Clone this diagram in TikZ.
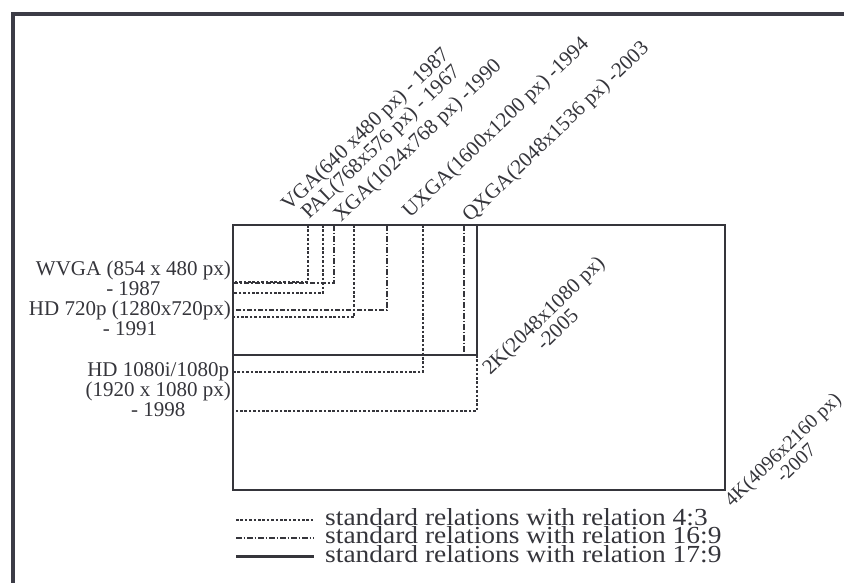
\documentclass[tikz,border=0pt]{standalone}
\usepackage{fontspec}
\setmainfont{Liberation Serif}
\newfontfamily\legfont{Liberation Serif}[FakeStretch=1.12]
\definecolor{ink}{HTML}{35353B}
\definecolor{frameink}{HTML}{3C3C46}

\begin{document}
\begin{tikzpicture}[
  x=1pt, y=-1pt,
  res/.style={ink, line width=1.1pt, dash pattern=on 2.6pt off 1.8pt},
  wide/.style={ink, line width=1.2pt, dash pattern=on 5.5pt off 2pt on 1.5pt off 2pt},
  cine/.style={ink, line width=1.9pt},
  tag/.style={font=\fontsize{21}{20}\selectfont, text=ink, inner sep=0pt},
  rtag/.style={tag, rotate=44, anchor=base west},
  ctag/.style={tag, rotate=44, align=center},
  ltag/.style={tag, align=center, anchor=east},
  leg/.style={font=\legfont\fontsize{24.5}{18}\selectfont, text=ink, inner sep=0pt, anchor=base west}
]
\useasboundingbox (0,0) rectangle (844,583);

% Page frame
\draw[frameink, line width=4pt] (844,14) -- (13,14) -- (13,583);

% 4:3 formats
\draw[res] (308,225) |- (233,282); % VGA
\draw[res] (323,225) |- (233,293); % PAL
\draw[res] (354,225) |- (233,317); % XGA
\draw[res] (423,225) |- (233,372); % UXGA
\draw[res] (477,355) |- (233,411); % QXGA

% 16:9 formats
\draw[wide] (334,225) |- (233,283); % WVGA
\draw[wide] (387,225) |- (233,310); % HD 720p
\draw[wide] (464,225) -- (464,355); % HD 1080

% 17:9 formats
\draw[cine] (233,225) rectangle (725,490); % 4K
\draw[cine] (477,225) |- (233,355);        % 2K

% Top labels
\node[rtag] (vga)  at (289,212) {VGA(640 x480 px) - 1987};
\node[rtag] (pal)  at (309,220) {PAL(768x576 px) - 1967};
\node[rtag] (xga)  at (341,223) {XGA(1024x768 px) -1990};
\node[rtag] (uxga) at (410,219) {UXGA(1600x1200 px) -1994};
\node[rtag] (qxga) at (470,223) {QXGA(2048x1536 px) -2003};

% Right labels
\node[ctag] (twok)  at (550,322) {2K(2048x1080 px)\\-2005};
\node[ctag, font=\fontsize{20}{19}\selectfont] (fourk) at (789,456) {4K(4096x2160 px)\\-2007};

% Left labels
\node[ltag] (wvga)    at (231,278) {WVGA (854 x 480 px)\\- 1987};
\node[ltag] (hdseven) at (231,318) {HD 720p (1280x720px)\\- 1991};
\node[ltag] (hdten)   at (231,390) {HD 1080i/1080p\\(1920 x 1080 px)\\- 1998};

% Legend
\draw[res]  (236,520) -- (314,520);
\draw[wide] (236,538) -- (314,538);
\draw[ink, line width=3pt] (236,556) -- (314,556);
\node[leg] (lgfour)    at (325,525) {standard relations with relation 4:3};
\node[leg] (lgsixteen) at (325,543.5) {standard relations with relation 16:9};
\node[leg] (lgseven)   at (325,562) {standard relations with relation 17:9};

\end{tikzpicture}
\end{document}
